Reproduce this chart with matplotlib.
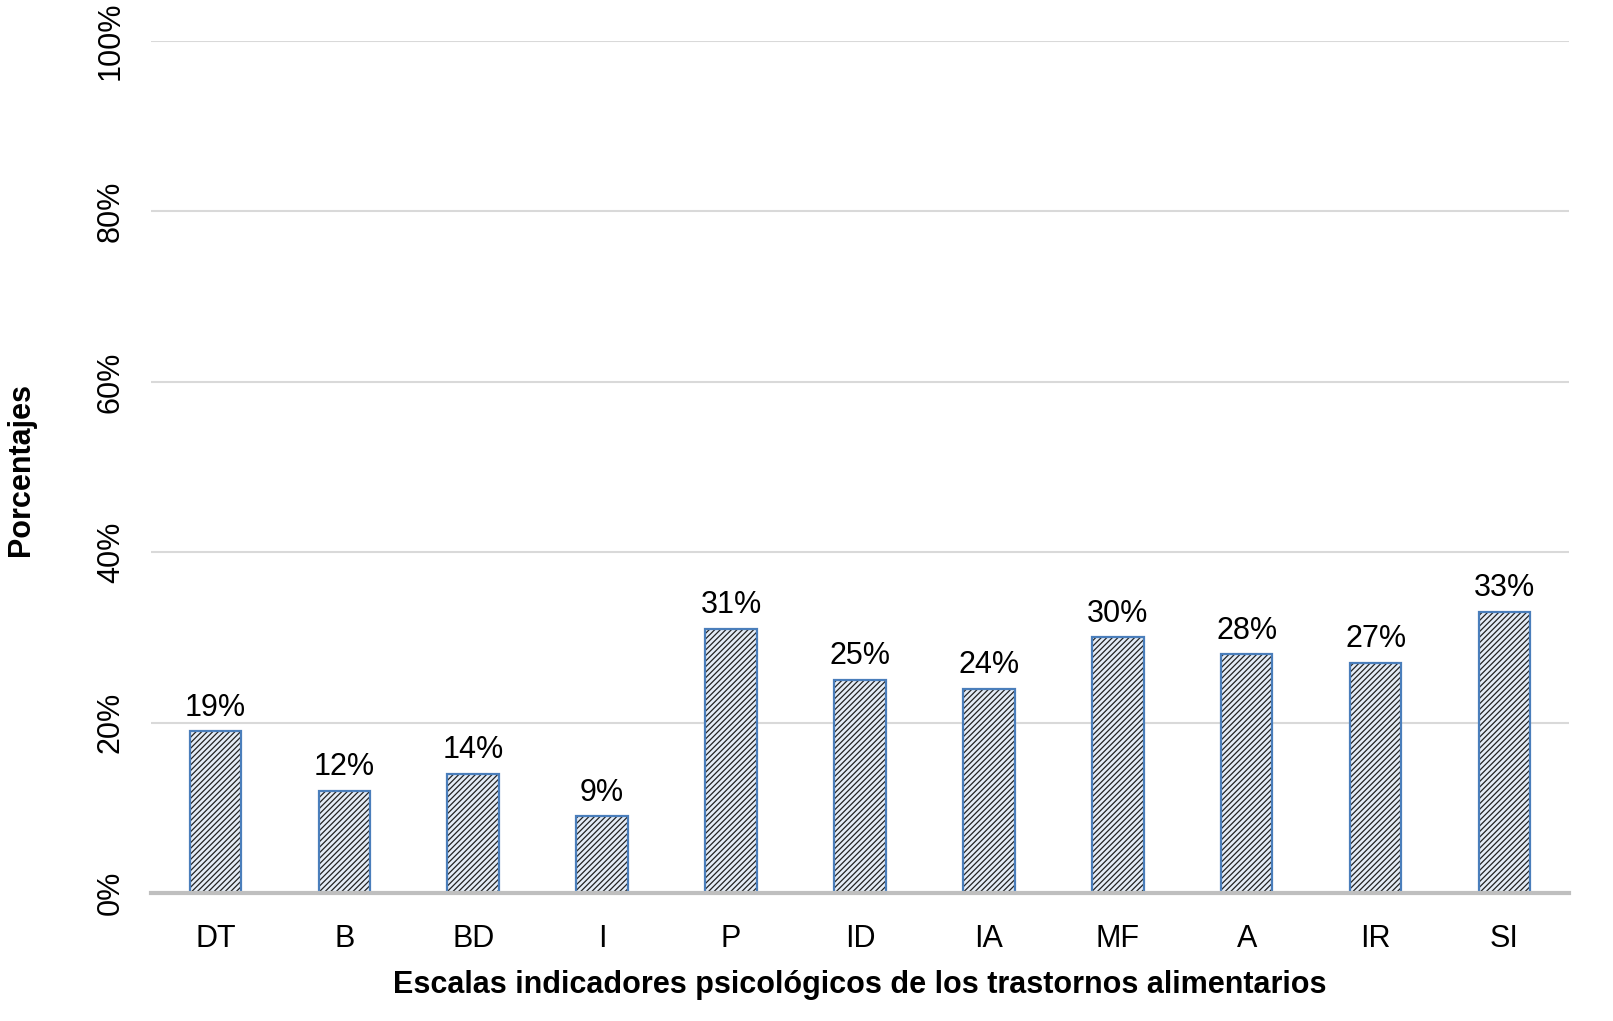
import matplotlib.pyplot as plt
from matplotlib.ticker import PercentFormatter

plt.rcParams['font.family'] = ['Liberation Sans', 'DejaVu Sans']
plt.rcParams['hatch.linewidth'] = 0.9

escalas = ["DT", "B", "BD", "I", "P", "ID", "IA", "MF", "A", "IR", "SI"]
porcentajes = [19, 12, 14, 9, 31, 25, 24, 30, 28, 27, 33]

fig = plt.figure(figsize=(16.13, 10.21), dpi=100)
ax = fig.add_axes([0.0936, 0.1254, 0.8791, 0.8344])

x = range(len(escalas))
vals = [v / 100 for v in porcentajes]

# relleno con trama y borde azul por separado
ax.bar(x, vals, width=0.4, color="#e4ecf6", edgecolor="#222222", linewidth=0, hatch="//////", zorder=3)
ax.bar(x, vals, width=0.4, fill=False, edgecolor="#4a7ebb", linewidth=1.6, zorder=4)

for i, v in enumerate(porcentajes):
    ax.text(i, v / 100 + 0.01, f"{v}%", ha="center", va="bottom", fontsize=22, color="black")

ax.set_xlim(-0.5, len(escalas) - 0.5)
ax.set_ylim(0, 1)
ax.set_yticks([0, 0.2, 0.4, 0.6, 0.8, 1.0])
ax.yaxis.set_major_formatter(PercentFormatter(1.0, decimals=0))
ax.set_xticks(list(x))
ax.set_xticklabels(escalas, fontsize=22)
for lbl in ax.get_yticklabels():
    lbl.set_rotation(90)
    lbl.set_va("center")
    lbl.set_fontsize(22)
ax.tick_params(axis="both", length=0)
ax.tick_params(axis="y", pad=18)
ax.tick_params(axis="x", pad=22)

ax.grid(axis="y", color="#d9d9d9", linewidth=1.5, zorder=0)
for s in ["top", "right", "left"]:
    ax.spines[s].set_visible(False)
ax.spines["bottom"].set_color("#bfbfbf")
ax.spines["bottom"].set_linewidth(3)
ax.spines["bottom"].set_zorder(5)

ax.set_xlabel("Escalas indicadores psicológicos de los trastornos alimentarios",
              fontsize=22, fontweight="bold", labelpad=12)
fig.text(0.013, 0.54, "Porcentajes", rotation=90, ha="center", va="center",
         fontsize=22, fontweight="bold")

fig.savefig("out.png", dpi=100)
